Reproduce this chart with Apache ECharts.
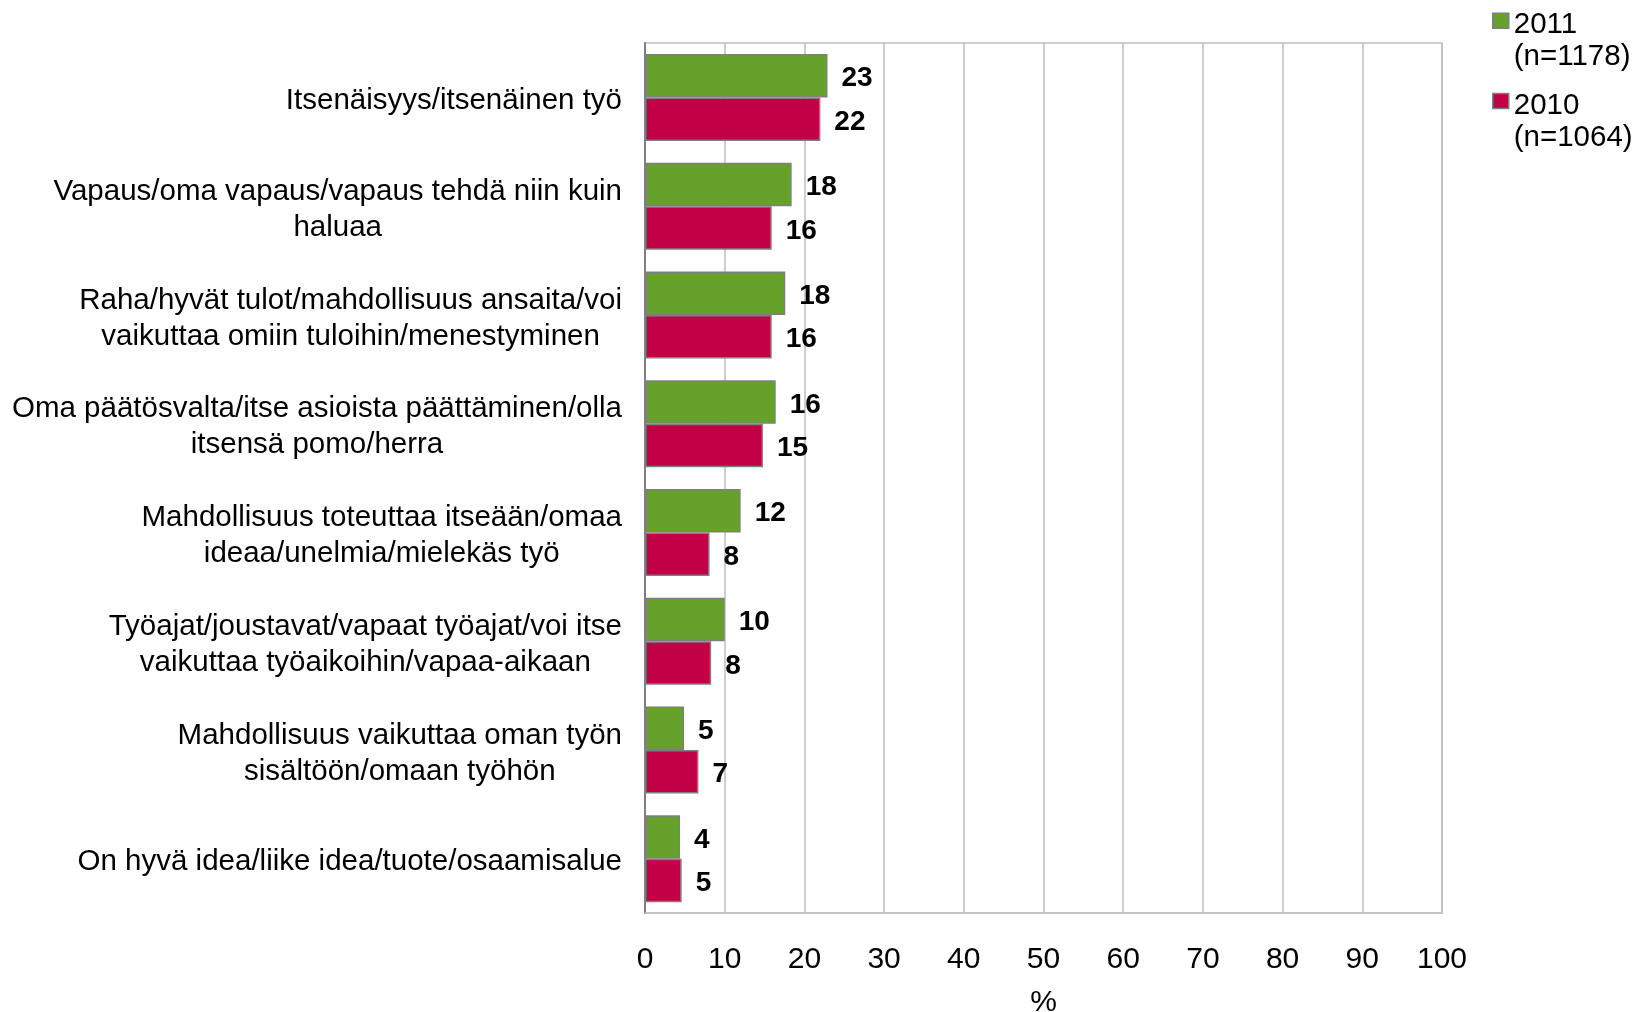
<!DOCTYPE html>
<html>
<head>
<meta charset="utf-8">
<script src="https://cdn.jsdelivr.net/npm/echarts@6/dist/echarts.min.js"></script>
<style>
html,body{margin:0;padding:0;background:#fff;}
#chart{width:1643px;height:1012px;}
</style>
</head>
<body>
<div id="chart"></div>
<script>
var categories = [
  "Itsenäisyys/itsenäinen työ",
  "Vapaus/oma vapaus/vapaus tehdä niin kuin\nhaluaa",
  "Raha/hyvät tulot/mahdollisuus ansaita/voi\nvaikuttaa omiin tuloihin/menestyminen",
  "Oma päätösvalta/itse asioista päättäminen/olla\nitsensä pomo/herra",
  "Mahdollisuus toteuttaa itseään/omaa\nideaa/unelmia/mielekäs työ",
  "Työajat/joustavat/vapaat työajat/voi itse\nvaikuttaa työaikoihin/vapaa-aikaan",
  "Mahdollisuus vaikuttaa oman työn\nsisältöön/omaan työhön",
  "On hyvä idea/liike idea/tuote/osaamisalue"
];
var seriesNames = ["2011", "2010"];
var sampleSizes = ["(n=1178)", "(n=1064)"];
var values2011 = [22.9, 18.4, 17.6, 16.4, 12.0, 10.0, 4.9, 4.4];
var values2010 = [22.0, 15.9, 15.9, 14.8, 8.1, 8.3, 6.7, 4.6];
var xTicks = [0, 10, 20, 30, 40, 50, 60, 70, 80, 90, 100];
var axisName = "%";

var colors = ["#66A22B", "#C20045"];
var FONT = "'Liberation Sans', Arial, sans-serif";

var chart = echarts.init(document.getElementById('chart'), null, {renderer: 'canvas'});

function makeSeries(idx, data) {
  return {
    name: seriesNames[idx],
    type: 'bar',
    data: data,
    barWidth: 43.5,
    barGap: '0%',
    itemStyle: {color: colors[idx], borderColor: '#7F7F7F', borderWidth: 1.5},
    label: {
      show: true,
      position: 'right',
      distance: 14,
      offset: [0, 3],
      fontFamily: FONT,
      fontSize: 28,
      fontWeight: 'bold',
      color: '#000',
      formatter: function (p) { return String(Math.round(p.value)); }
    }
  };
}

var option = {
  animation: false,
  backgroundColor: '#fff',
  textStyle: {fontFamily: FONT},
  grid: {
    left: 645, right: 201, top: 43, bottom: 99,
    outerBoundsMode: 'none',
    containLabel: false,
    show: true, borderColor: '#BEBEBE', borderWidth: 1.5
  },
  legend: {
    data: seriesNames,
    orient: 'vertical',
    left: 1492,
    top: -25.2,
    padding: 0,
    itemGap: -17.2,
    itemWidth: 16,
    itemHeight: 15,
    selectedMode: false,
    icon: 'rect',
    itemStyle: {borderColor: '#7F7F7F', borderWidth: 1.5},
    formatter: function (name) {
      return '{p| }\n{t|' + name + '}\n{t|' + sampleSizes[seriesNames.indexOf(name)] + '}';
    },
    textStyle: {
      fontFamily: FONT, fontSize: 29.5, color: '#000',
      rich: {
        p: {fontFamily: FONT, fontSize: 28, lineHeight: 41},
        t: {fontFamily: FONT, fontSize: 29.5, lineHeight: 32, color: '#000'}
      }
    }
  },
  xAxis: {
    type: 'value',
    min: xTicks[0],
    max: xTicks[xTicks.length - 1],
    interval: xTicks[1] - xTicks[0],
    name: axisName,
    nameLocation: 'middle',
    nameGap: 75,
    nameMoveOverlap: false,
    nameTextStyle: {fontFamily: FONT, fontSize: 30, color: '#000'},
    axisLine: {show: true, lineStyle: {color: '#BEBEBE', width: 1.5}},
    axisTick: {show: false},
    axisLabel: {fontFamily: FONT, fontSize: 30, color: '#000', margin: 31.5},
    splitLine: {show: true, lineStyle: {color: '#BEBEBE', width: 1.5}}
  },
  yAxis: {
    type: 'category',
    inverse: true,
    data: categories,
    axisLine: {show: true, lineStyle: {color: '#808080', width: 2}},
    axisTick: {show: false},
    splitLine: {show: false},
    axisLabel: {
      margin: 23,
      fontFamily: FONT,
      fontSize: 29.5,
      lineHeight: 36,
      color: '#000',
      align: 'right',
      padding: [7, 0, 0, 0],
      formatter: function (v) {
        return v.split('\n').map(function (s) { return '{c|' + s + '}'; }).join('\n');
      },
      rich: {
        c: {fontFamily: FONT, fontSize: 29.5, lineHeight: 36, color: '#000', align: 'center'}
      }
    }
  },
  series: [makeSeries(0, values2011), makeSeries(1, values2010)]
};

chart.setOption(option);
</script>
</body>
</html>
